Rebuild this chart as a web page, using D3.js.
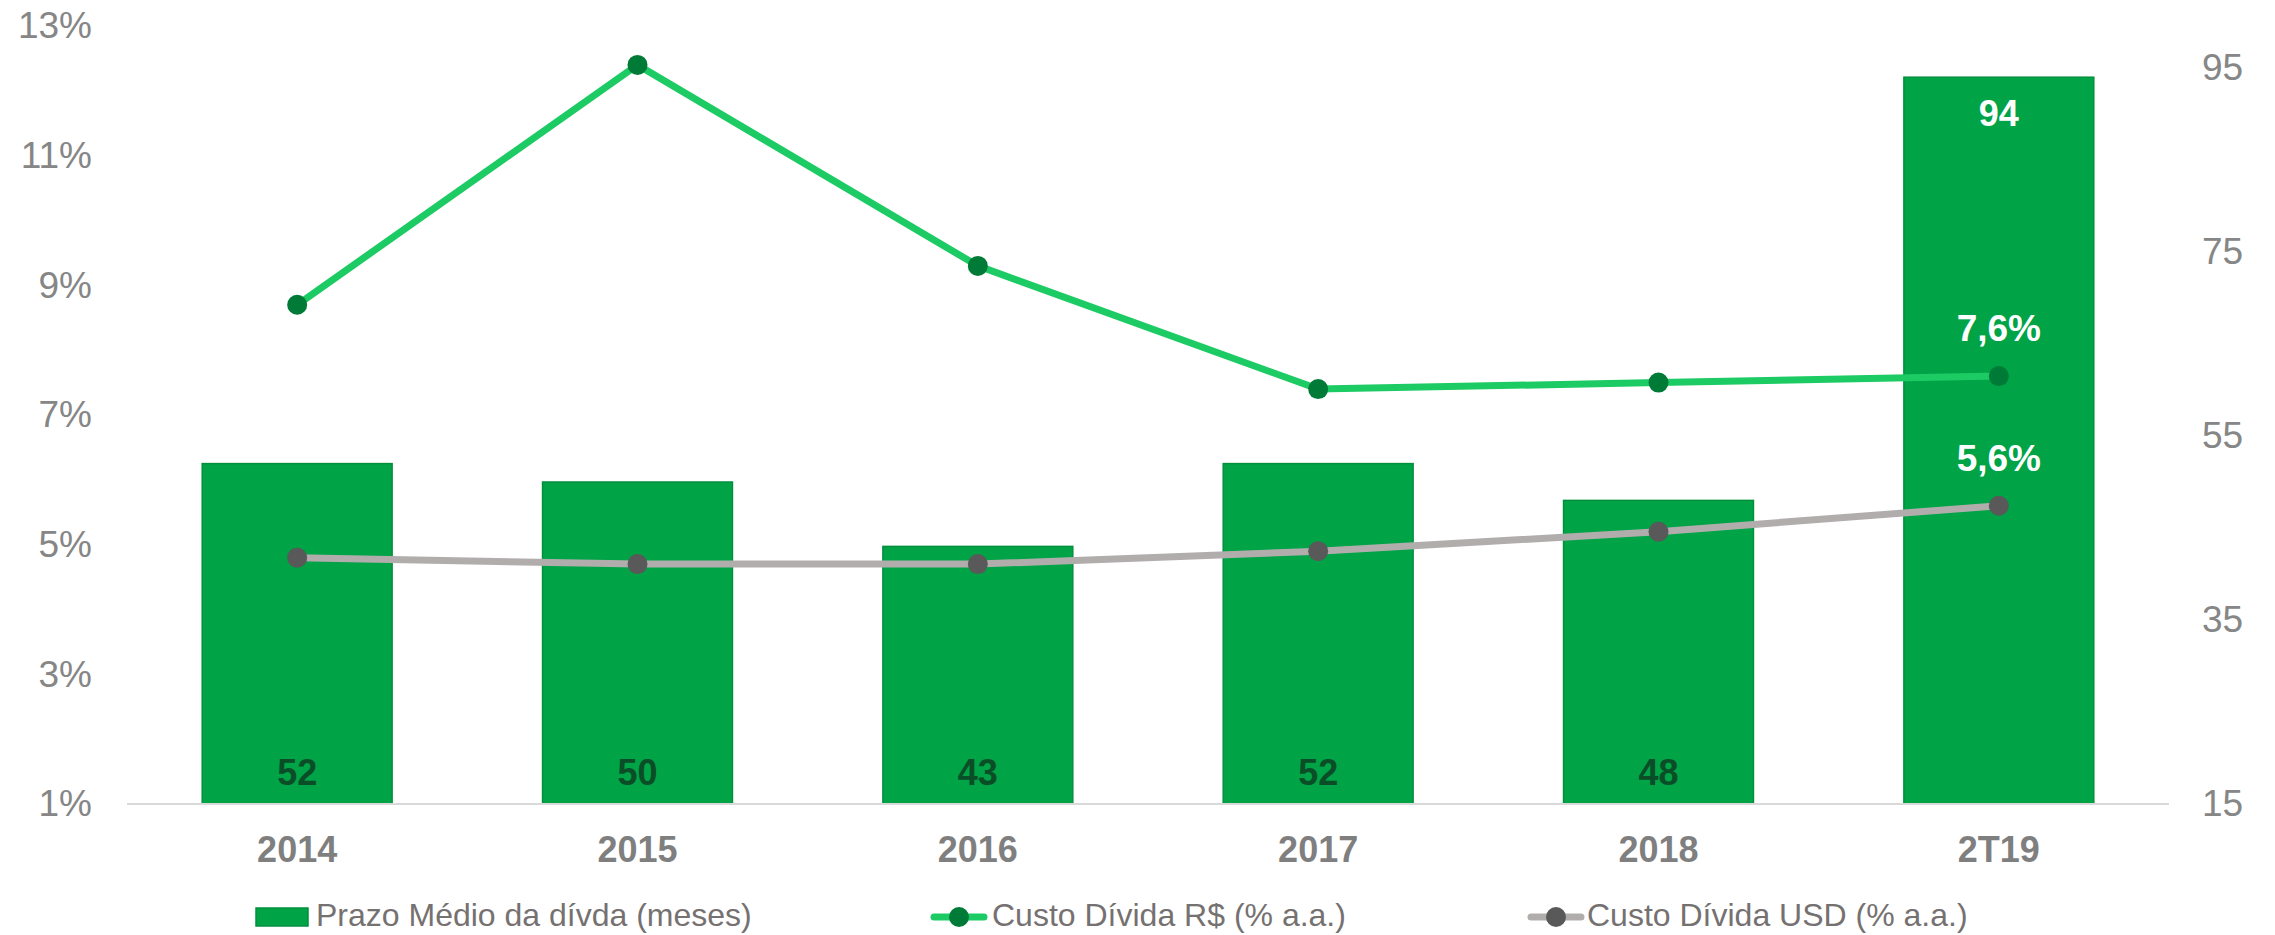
<!DOCTYPE html>
<html>
<head>
<meta charset="utf-8">
<script src="https://cdn.jsdelivr.net/npm/d3@7"></script>
<style>
  body { margin: 0; background: #ffffff; }
  text { font-family: "Liberation Sans", Arial, sans-serif; }
</style>
</head>
<body>
<div id="chart"></div>
<script>
var categories = ["2014", "2015", "2016", "2017", "2018", "2T19"];
var prazoMedio = [52, 50, 43, 52, 48, 94];
var custoBRL = [8.7, 12.4, 9.3, 7.4, 7.5, 7.6];
var custoUSD = [4.8, 4.7, 4.7, 4.9, 5.2, 5.6];
var leftTicks = [1, 3, 5, 7, 9, 11, 13];
var rightTicks = [15, 35, 55, 75, 95];
var legendLabels = ["Prazo Médio da dívda (meses)", "Custo Dívida R$ (% a.a.)", "Custo Dívida USD (% a.a.)"];

var width = 2275, height = 935;
var plot = { left: 127, right: 2169, top: 26, bottom: 804 };

var svg = d3.select("#chart")
    .append("svg")
    .attr("width", width)
    .attr("height", height);

var x = d3.scaleBand()
    .domain(categories)
    .range([plot.left, plot.right])
    .paddingInner(0.442)
    .paddingOuter(0.221);

var yLeft = d3.scaleLinear()
    .domain([1, 13])
    .range([plot.bottom, plot.top]);

// right axis tops out at 95 a bit below the plot top
var yRight = d3.scaleLinear()
    .domain([15, 95])
    .range([plot.bottom, 68]);

var axisColor = "#868686";

// left axis labels
var gLeft = svg.append("g")
    .attr("transform", "translate(92,0)")
    .call(d3.axisLeft(yLeft).tickValues(leftTicks).tickSize(0).tickPadding(0)
        .tickFormat(function (d) { return d + "%"; }));
gLeft.select(".domain").remove();
gLeft.selectAll("text")
    .attr("fill", axisColor)
    .style("font-size", "37px")
    .attr("dy", "0.32em");

// right axis labels
var gRight = svg.append("g")
    .attr("transform", "translate(2202,0)")
    .call(d3.axisRight(yRight).tickValues(rightTicks).tickSize(0).tickPadding(0));
gRight.select(".domain").remove();
gRight.selectAll("text")
    .attr("fill", axisColor)
    .style("font-size", "37px")
    .attr("dy", "0.32em");

// bars
svg.selectAll("rect.bar")
    .data(prazoMedio)
    .enter()
    .append("rect")
    .attr("class", "bar")
    .attr("x", function (d, i) { return x(categories[i]); })
    .attr("y", function (d) { return yRight(d); })
    .attr("width", x.bandwidth())
    .attr("height", function (d) { return yRight(15) - yRight(d); })
    .attr("fill", "#00a346")
    .attr("stroke", "#00903c")
    .attr("stroke-width", 1.5);

// baseline
svg.append("line")
    .attr("x1", plot.left)
    .attr("x2", plot.right)
    .attr("y1", plot.bottom)
    .attr("y2", plot.bottom)
    .attr("stroke", "#d9d9d9")
    .attr("stroke-width", 2);

// category labels
var gX = svg.append("g")
    .attr("transform", "translate(0," + plot.bottom + ")")
    .call(d3.axisBottom(x).tickSize(0).tickPadding(0));
gX.select(".domain").remove();
gX.selectAll("text")
    .attr("fill", "#7f7f7f")
    .attr("y", 58)
    .attr("dy", 0)
    .style("font-size", "36px")
    .style("font-weight", "bold");

// bar labels
svg.selectAll("text.barlabel")
    .data(prazoMedio)
    .enter()
    .append("text")
    .attr("class", "barlabel")
    .attr("x", function (d, i) { return x(categories[i]) + x.bandwidth() / 2; })
    .attr("y", function (d, i) { return i === prazoMedio.length - 1 ? yRight(d) + 49 : plot.bottom - 19; })
    .attr("text-anchor", "middle")
    .attr("fill", function (d, i) { return i === prazoMedio.length - 1 ? "#ffffff" : "#0a4d26"; })
    .style("font-size", "36px")
    .style("font-weight", "bold")
    .text(function (d) { return d; });

var cx = function (d, i) { return x(categories[i]) + x.bandwidth() / 2; };

// USD line
svg.append("path")
    .datum(custoUSD)
    .attr("fill", "none")
    .attr("stroke", "#b1adad")
    .attr("stroke-width", 7)
    .attr("d", d3.line()
        .x(cx)
        .y(function (d) { return yLeft(d); })
    );

svg.selectAll("circle.usd")
    .data(custoUSD)
    .enter()
    .append("circle")
    .attr("class", "usd")
    .attr("cx", cx)
    .attr("cy", function (d) { return yLeft(d); })
    .attr("r", 10)
    .attr("fill", "#595959");

// BRL line
svg.append("path")
    .datum(custoBRL)
    .attr("fill", "none")
    .attr("stroke", "#1ccb63")
    .attr("stroke-width", 7)
    .attr("d", d3.line()
        .x(cx)
        .y(function (d) { return yLeft(d); })
    );

svg.selectAll("circle.brl")
    .data(custoBRL)
    .enter()
    .append("circle")
    .attr("class", "brl")
    .attr("cx", cx)
    .attr("cy", function (d) { return yLeft(d); })
    .attr("r", 10)
    .attr("fill", "#007a37");

// last point labels
var last = categories.length - 1;
[custoBRL, custoUSD].forEach(function (s) {
    svg.append("text")
        .attr("x", cx(s[last], last))
        .attr("y", yLeft(s[last]) - 35)
        .attr("text-anchor", "middle")
        .attr("fill", "#ffffff")
        .style("font-size", "37px")
        .style("font-weight", "bold")
        .text(d3.format(".1f")(s[last]).replace(".", ",") + "%");
});

// legend
var legendColor = "#767171";
var ly = 917;

svg.append("rect")
    .attr("x", 256)
    .attr("y", 908)
    .attr("width", 52)
    .attr("height", 18)
    .attr("fill", "#00a346")
    .attr("stroke", "#00903c")
    .attr("stroke-width", 1.5);

var legendLines = [
    { x: 930, line: "#1ccb63", dot: "#007a37" },
    { x: 1527, line: "#b1adad", dot: "#595959" }
];
legendLines.forEach(function (l) {
    svg.append("line")
        .attr("x1", l.x + 4)
        .attr("x2", l.x + 54)
        .attr("y1", ly)
        .attr("y2", ly)
        .attr("stroke", l.line)
        .attr("stroke-width", 7)
        .attr("stroke-linecap", "round");
    svg.append("circle")
        .attr("cx", l.x + 29)
        .attr("cy", ly)
        .attr("r", 10)
        .attr("fill", l.dot);
});

var legendX = [316, 992, 1587];
svg.selectAll("text.legend")
    .data(legendLabels)
    .enter()
    .append("text")
    .attr("class", "legend")
    .attr("x", function (d, i) { return legendX[i]; })
    .attr("y", 926)
    .attr("fill", legendColor)
    .style("font-size", "32px")
    .text(function (d) { return d; });
</script>
</body>
</html>
